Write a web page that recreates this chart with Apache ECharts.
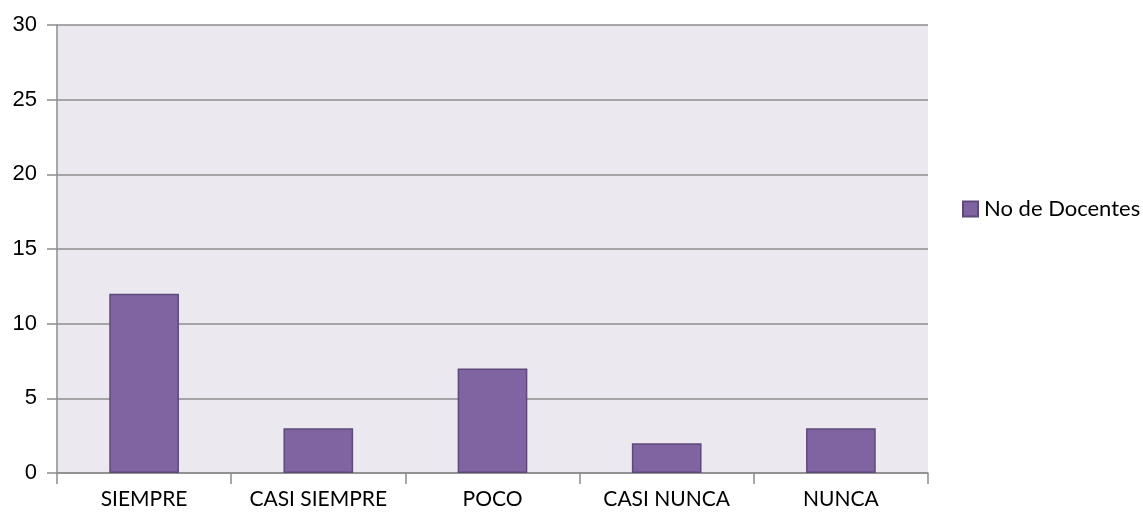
<!DOCTYPE html>
<html>
<head>
<meta charset="utf-8">
<script src="https://cdn.jsdelivr.net/npm/echarts@6/dist/echarts.min.js"></script>
<style>
  html, body { margin: 0; padding: 0; background: #ffffff; }
  #main { width: 1143px; height: 512px; }
</style>
</head>
<body>
<div id="main"></div>
<script>
// datos
const categorias = ['SIEMPRE', 'CASI SIEMPRE', 'POCO', 'CASI NUNCA', 'NUNCA']
const docentes = [12, 3, 7, 2, 3]
const nombreSerie = 'No de Docentes'

const myChart = echarts.init(document.getElementById('main'))

const option = {
  animation: false,
  color: ['#8064a2'],
  legend: {
    data: [nombreSerie],
    orient: 'vertical',
    left: 957,
    top: 193,
    itemWidth: 15,
    itemHeight: 15,
    itemGap: 8,
    icon: 'rect',
    textStyle: { fontFamily: 'Lato', fontSize: 22, color: '#000000', padding: [0, 0, 0, 1] }
  },
  grid: {
    left: 57,
    right: 215,
    top: 25,
    bottom: 39,
    show: true,
    backgroundColor: '#ebe8f0',
    borderWidth: 0
  },
  xAxis: {
    type: 'category',
    data: categorias,
    axisLine: { lineStyle: { color: '#8c8c8c', width: 1.5 } },
    axisTick: { show: true, interval: 0, length: 11, alignWithLabel: false, lineStyle: { color: '#8c8c8c', width: 1.5 } },
    axisLabel: { interval: 0, hideOverlap: false, color: '#000000', fontFamily: 'Lato', fontSize: 21, margin: 16 }
  },
  yAxis: {
    type: 'value',
    min: 0,
    max: 30,
    interval: 5,
    axisLine: { show: true, lineStyle: { color: '#8c8c8c', width: 1.5 } },
    axisTick: { show: true, length: 10, lineStyle: { color: '#8c8c8c', width: 1.5 } },
    axisLabel: { color: '#000000', fontFamily: 'Liberation Sans', fontSize: 22, margin: 20 },
    splitLine: { lineStyle: { color: '#8c8c8c', width: 1.5 } }
  },
  series: [
    {
      name: nombreSerie,
      type: 'bar',
      data: docentes,
      barWidth: '40%',
      itemStyle: { color: '#8064a2', borderColor: '#5e4a7a', borderWidth: 1.5 }
    }
  ]
}

myChart.setOption(option)
</script>
</body>
</html>
